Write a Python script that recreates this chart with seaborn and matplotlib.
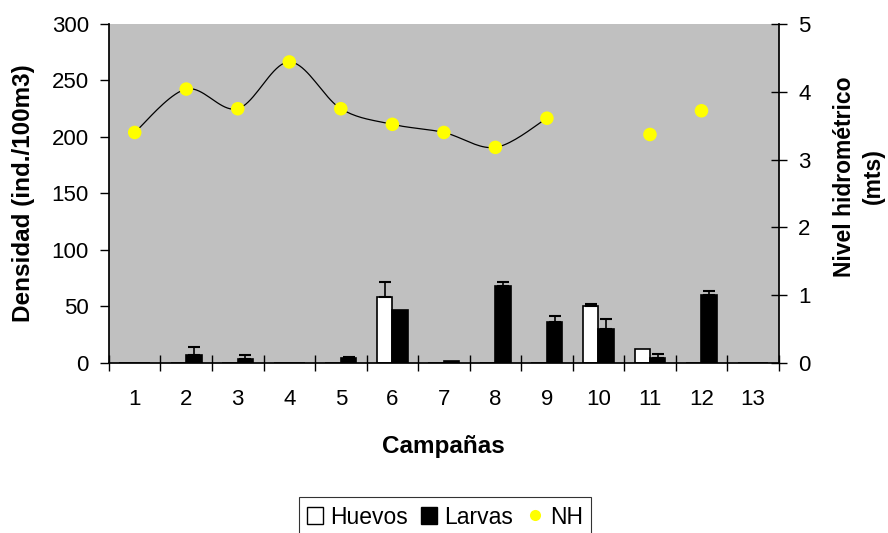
import numpy as np
import pandas as pd
import matplotlib
matplotlib.use("Agg")
import matplotlib.pyplot as plt
import seaborn as sns
from matplotlib.patches import Patch
from matplotlib.lines import Line2D

campaigns = [str(i) for i in range(1, 14)]
huevos = [0, 0, 0, 0, 0, 58, 0, 0, 0, 50, 12, 0, 0]
huevos_err = [0, 0, 0, 0, 0, 14, 0, 0, 0, 2, 0, 0, 0]
larvas = [0, 7, 3.5, 0, 4, 47, 1.5, 68, 36, 30, 4.5, 60, 0]
larvas_err = [0, 7, 3.5, 0, 1, 0, 0, 4, 6, 9, 3, 4, 0]
nh = [3.40, 4.04, 3.75, 4.44, 3.75, 3.52, 3.40, 3.18, 3.61, np.nan, 3.37, 3.72, np.nan]

sns.set_theme(style="white")
plt.rcParams['font.family'] = ['Liberation Sans', 'DejaVu Sans']

TICK_FS = 16
LABEL_FS = 17.5

df = pd.DataFrame({
    "Campaña": campaigns * 2,
    "Densidad": huevos + larvas,
    "Serie": ["Huevos"] * 13 + ["Larvas"] * 13,
})

fig = plt.figure(figsize=(8.88, 5.33), dpi=100)
ax = fig.add_axes([0.1227, 0.319, 0.7543, 0.636])
ax.set_facecolor("#C0C0C0")

sns.barplot(data=df, x="Campaña", y="Densidad", hue="Serie", order=campaigns,
            hue_order=["Huevos", "Larvas"], palette={"Huevos": "white", "Larvas": "black"},
            width=0.6, edgecolor="black", linewidth=1.2, errorbar=None, legend=False, ax=ax)

# error bars (upper only)
nb = len(campaigns)
patches = ax.patches[:2 * nb]
for series, errs, vals in [(0, huevos_err, huevos), (1, larvas_err, larvas)]:
    for i in range(nb):
        if errs[i] > 0:
            p = patches[series * nb + i]
            xc = p.get_x() + p.get_width() / 2
            ax.errorbar([xc], [vals[i]], yerr=[[0], [errs[i]]], fmt="none",
                        ecolor="black", elinewidth=1.2, capsize=4, capthick=1.5, zorder=3)

ax.set_xlim(-0.5, nb - 0.5)
ax.set_ylim(0, 300)
ax.set_yticks(np.arange(0, 301, 50))
ax.tick_params(axis="y", direction="out", length=6.5, width=1, color="black",
               labelsize=TICK_FS, pad=8, left=True, labelcolor="black")
ax.set_xticks(np.arange(nb))
ax.set_xticklabels(campaigns)
ax.tick_params(axis="x", which="major", length=0, labelsize=TICK_FS, pad=19, labelcolor="black")
ax.set_xticks(np.arange(-0.5, nb, 1.0), minor=True)
ax.tick_params(axis="x", which="minor", direction="inout", length=12, width=1, color="black", bottom=True)
ax.spines["top"].set_visible(False)
ax.spines["right"].set_visible(False)
ax.spines["left"].set_color("black")
ax.spines["bottom"].set_color("black")
ax.set_xlabel("Campañas", fontsize=LABEL_FS, fontweight="bold", color="black")
ax.xaxis.set_label_coords(0.5, -0.213)
ax.set_ylabel("Densidad (ind./100m3)", fontsize=LABEL_FS, fontweight="bold", color="black")
ax.yaxis.set_label_coords(-0.11, 0.5)

ax2 = ax.twinx()
ax2.set_ylim(0, 5)
ax2.set_yticks(np.arange(0, 6, 1))
ax2.tick_params(axis="y", direction="inout", length=12, width=1, color="black",
                labelsize=TICK_FS, right=True, pad=8, labelcolor="black")
for s in ["top", "left", "bottom"]:
    ax2.spines[s].set_visible(False)
ax2.spines["right"].set_color("black")

# smoothed line through first continuous segment (Catmull-Rom rendering)
xs = np.arange(nb)
seg = list(range(9))
px = xs[seg].astype(float)
py = np.array([nh[i] for i in seg])
P = np.column_stack([px, py])
P = np.vstack([P[0], P, P[-1]])
curve = []
for k in range(1, len(P) - 2):
    p0, p1, p2, p3 = P[k - 1], P[k], P[k + 1], P[k + 2]
    for t in np.linspace(0, 1, 20, endpoint=False):
        t2, t3 = t * t, t * t * t
        pt = 0.5 * ((2 * p1) + (-p0 + p2) * t + (2 * p0 - 5 * p1 + 4 * p2 - p3) * t2
                    + (-p0 + 3 * p1 - 3 * p2 + p3) * t3)
        curve.append(pt)
curve.append(P[-2])
curve = np.array(curve)
ax2.plot(curve[:, 0], curve[:, 1], color="black", linewidth=0.9, zorder=2)

nh_df = pd.DataFrame({"x": xs, "NH": nh}).dropna()
sns.scatterplot(data=nh_df, x="x", y="NH", color="#FFFF00", s=95, edgecolor="none", ax=ax2, zorder=4)
ax2.set_xlim(-0.5, nb - 0.5)
ax2.set_xlabel("")
ax2.set_ylabel("Nivel hidrométrico\n(mts)", fontsize=16.5, fontweight="bold",
               linespacing=1.3, color="black")
ax2.yaxis.set_label_coords(1.081, 0.55)

handles = [Patch(facecolor="white", edgecolor="black", linewidth=1),
           Patch(facecolor="black", edgecolor="black"),
           Line2D([0], [0], marker="o", color="none", markerfacecolor="#FFFF00",
                  markeredgecolor="none", markersize=8)]
leg = fig.legend(handles, ["Huevos", "Larvas", "NH"], loc="center", bbox_to_anchor=(0.501, 0.03),
                 ncol=3, fontsize=16.5, frameon=True, fancybox=False, handlelength=0.7,
                 handleheight=0.7, handletextpad=0.3, columnspacing=0.6, borderpad=0.35,
                 edgecolor="black")
leg.get_frame().set_linewidth(0.8)
for t in leg.get_texts():
    t.set_color("black")

fig.savefig("out.png", dpi=100, facecolor="white")
